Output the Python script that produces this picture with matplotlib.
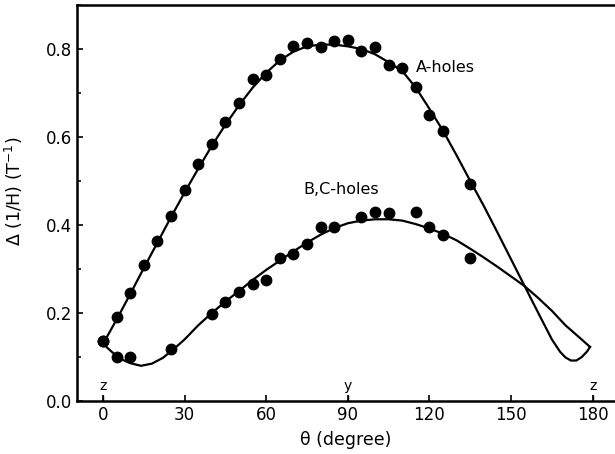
import matplotlib
matplotlib.use('Agg')
import matplotlib.pyplot as plt
from matplotlib.ticker import MultipleLocator, FormatStrFormatter

# measured points
theta_a = [0, 5, 10, 15, 20, 25, 30, 35, 40, 45, 50, 55, 60, 65, 70, 75,
           80, 85, 90, 95, 100, 105, 110, 115, 120, 125, 135]
val_a = [0.137, 0.19, 0.246, 0.31, 0.364, 0.42, 0.48, 0.539, 0.584, 0.634,
         0.677, 0.732, 0.74, 0.778, 0.807, 0.814, 0.805, 0.818, 0.82, 0.796,
         0.805, 0.764, 0.756, 0.714, 0.649, 0.614, 0.493]

theta_bc = [0, 5, 10, 25, 40, 45, 50, 55, 60, 65, 70, 75, 80, 85, 95, 100,
            105, 115, 120, 125, 135]
val_bc = [0.137, 0.099, 0.099, 0.118, 0.198, 0.226, 0.248, 0.267, 0.275,
          0.325, 0.335, 0.357, 0.396, 0.395, 0.418, 0.429, 0.428, 0.429,
          0.396, 0.377, 0.324]

# calculated curves
fit_a_theta = [0, 5, 10, 15, 20, 25, 30, 35, 40, 45, 50, 55, 60, 65, 70, 75,
               80, 85, 90, 95, 100, 105, 110, 115, 120, 125, 130, 135, 140,
               145, 150, 155, 160, 165, 168, 170, 172, 174, 176, 178, 179]
fit_a_val = [0.13, 0.185, 0.243, 0.302, 0.36, 0.418, 0.474, 0.528, 0.58,
             0.628, 0.672, 0.712, 0.746, 0.774, 0.794, 0.806, 0.81, 0.81,
             0.806, 0.80, 0.788, 0.77, 0.75, 0.712, 0.664, 0.614, 0.558,
             0.5, 0.443, 0.383, 0.322, 0.261, 0.2, 0.14, 0.112, 0.099,
             0.092, 0.092, 0.1, 0.113, 0.123]

fit_bc_theta = [0, 3, 6, 10, 14, 18, 22, 26, 30, 35, 40, 45, 50, 55, 60, 65,
                70, 75, 80, 85, 90, 95, 100, 105, 110, 115, 120, 125, 130,
                135, 140, 145, 150, 155, 160, 165, 170, 175, 179]
fit_bc_val = [0.13, 0.113, 0.097, 0.086, 0.08, 0.085, 0.098, 0.118, 0.14,
              0.172, 0.2, 0.226, 0.25, 0.275, 0.298, 0.319, 0.34, 0.36,
              0.378, 0.393, 0.404, 0.41, 0.413, 0.413, 0.41, 0.402, 0.392,
              0.38, 0.365, 0.346, 0.326, 0.305, 0.283, 0.261, 0.234, 0.205,
              0.172, 0.145, 0.123]

axis_marks = [0, 90, 180]
axis_names = ['z', 'y', 'z']

fig = plt.figure(figsize=(6.15, 4.54), dpi=100)
ax = fig.add_axes([77 / 615, 53 / 454, 538 / 615, 396 / 454])

ax.plot(fit_a_theta, fit_a_val, color='black', lw=1.6)
ax.plot(fit_bc_theta, fit_bc_val, color='black', lw=1.6)
ax.plot(theta_a, val_a, 'o', color='black', ms=7.5)
ax.plot(theta_bc, val_bc, 'o', color='black', ms=7.5)

ax.text(115, 0.757, 'A-holes', fontsize=11.5, va='center', ha='left')
ax.text(73.5, 0.48, 'B,C-holes', fontsize=11.5, va='center', ha='left')

for t, name in zip(axis_marks, axis_names):
    ax.text(t, 0.018, name, fontsize=10, ha='center', va='bottom')
    ax.plot([t, t], [0, 0.012], color='black', lw=1)

ax.set_xlim(-9.56, 188.2)
ax.set_ylim(0, 0.9)
ax.xaxis.set_major_locator(MultipleLocator(30))
ax.yaxis.set_major_locator(MultipleLocator(0.2))
ax.yaxis.set_minor_locator(MultipleLocator(0.1))
ax.yaxis.set_major_formatter(FormatStrFormatter('%.1f'))
ax.tick_params(direction='in', length=4, width=1.2, labelsize=12)
ax.tick_params(which='minor', direction='in', length=3, width=1.2)
ax.spines['right'].set_visible(False)
for s in ['left', 'bottom', 'top']:
    ax.spines[s].set_linewidth(1.8)

ax.set_xlabel('θ (degree)', fontsize=12.5, labelpad=5)
ax.set_ylabel('Δ (1/H) (T$^{-1}$)', fontsize=12.5)
ax.yaxis.set_label_coords(-0.097, 0.53)

fig.savefig('out.png', dpi=100)
